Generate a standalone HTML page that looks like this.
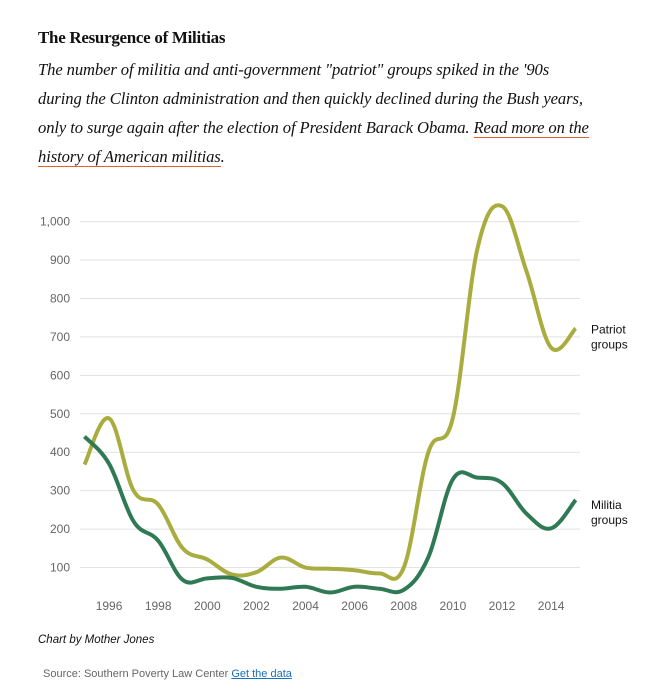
<!DOCTYPE html>
<html><head><meta charset="utf-8"><style>
body{margin:0;background:#fff;width:672px;height:696px;overflow:hidden;position:relative}
.t{position:absolute;left:38px;top:28px;font:bold 17px "Liberation Serif",serif;color:#111;letter-spacing:-0.3px}
.d{position:absolute;left:38px;top:55px;white-space:nowrap;font:italic 16.6px/29px "Liberation Serif",serif;color:#111;letter-spacing:-0.1px}
.d a{color:#111;text-decoration:none;border-bottom:1px solid #e0642a}
.cb{position:absolute;left:38px;top:634px;font:italic 11.5px "Liberation Sans",sans-serif;color:#111}
.src{position:absolute;left:43px;top:668px;font:11px "Liberation Sans",sans-serif;color:#666}
.src a{color:#1a6fc0;text-decoration:underline}
svg{position:absolute;left:0;top:0}
</style></head><body>
<div class="t">The Resurgence of Militias</div>
<div class="d">The number of militia and anti-government "patriot" groups spiked in the '90s<br>during the Clinton administration and then quickly declined during the Bush years,<br>only to surge again after the election of President Barack Obama. <a>Read more on the<br>history of American militias</a>.</div>
<svg id="c" width="672" height="696"></svg>
<div class="cb">Chart by Mother Jones</div>
<div class="src">Source: Southern Poverty Law Center <a>Get the data</a></div>
<script>
const years=[1995,1996,1997,1998,1999,2000,2001,2002,2003,2004,2005,2006,2007,2008,2009,2010,2011,2012,2013,2014,2015];
const patriot=[368,488,300,264,150,121,82,88,126,100,97,93,85,100,400,490,930,1040,870,672,722];
const militia=[441,370,220,170,68,72,73,50,45,50,35,50,45,42,127,330,334,320,240,202,276];
const yTicks=[100,200,300,400,500,600,700,800,900,1000];
const xTicks=[1996,1998,2000,2002,2004,2006,2008,2010,2012,2014];
const NS='http://www.w3.org/2000/svg',svg=document.getElementById('c');
const x=v=>84.5+(v-1995)*24.56, y=v=>606-v*0.3844;
function mk(t,a){const e=document.createElementNS(NS,t);for(const k in a)e.setAttribute(k,a[k]);svg.appendChild(e);return e;}
yTicks.forEach(v=>{
 const g=mk('line',{x1:80,x2:580,y1:y(v),y2:y(v),stroke:'#e2e2e2','stroke-width':1});
 
 
 const t=mk('text',{x:70,y:y(v)+4,'text-anchor':'end','font-family':'Liberation Sans,sans-serif','font-size':12,fill:'#666'});
 t.textContent=v.toLocaleString('en-US');
 
 
});
xTicks.forEach(v=>{
 const t=mk('text',{x:x(v),y:610,'text-anchor':'middle','font-family':'Liberation Sans,sans-serif','font-size':12,fill:'#666'});
 t.textContent=v;
 
 
});
function path(vals){
 const p=vals.map((v,i)=>[x(years[i]),y(v)]);
 let d='M'+p[0][0]+','+p[0][1];
 for(let i=0;i<p.length-1;i++){
  const p0=p[Math.max(i-1,0)],p1=p[i],p2=p[i+1],p3=p[Math.min(i+2,p.length-1)];
  const k=0.18;
  d+=' C'+(p1[0]+(p2[0]-p0[0])*k)+','+(p1[1]+(p2[1]-p0[1])*k)+' '+(p2[0]-(p3[0]-p1[0])*k)+','+(p2[1]-(p3[1]-p1[1])*k)+' '+p2[0]+','+p2[1];
 }
 return d;
}
const pl=mk('path',{d:path(patriot),fill:'none',stroke:'#a9ac3e','stroke-width':4,'stroke-linejoin':'round'});


const ml=mk('path',{d:path(militia),fill:'none',stroke:'#2f7a55','stroke-width':4,'stroke-linejoin':'round'});


function lab(txt,vy,name){
 const t=mk('text',{x:591,y:vy,'font-family':'Liberation Sans,sans-serif','font-size':12,fill:'#111'});
 
 
 txt.forEach((s,i)=>{const ts=document.createElementNS(NS,'tspan');ts.setAttribute('x',591);ts.setAttribute('dy',i?15:0);ts.textContent=s;t.appendChild(ts);});
}
lab(['Patriot','groups'],y(patriot[20])+5,'patriot-label');
lab(['Militia','groups'],y(militia[20])+9,'militia-label');
</script>
</body></html>
